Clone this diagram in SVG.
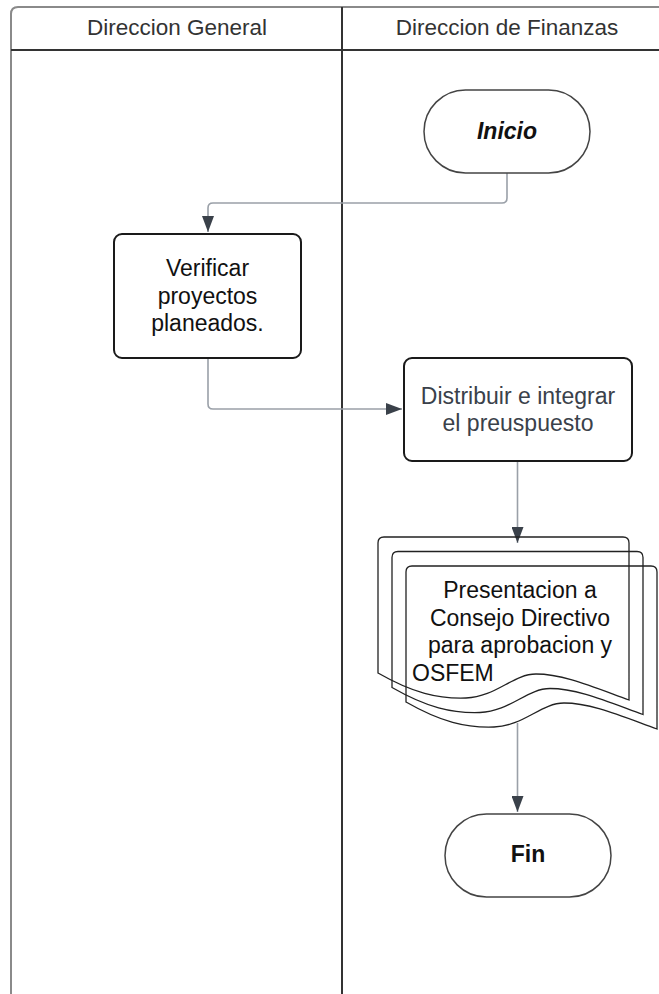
<svg xmlns="http://www.w3.org/2000/svg" width="659" height="994" viewBox="0 0 659 994">
<style>
.t{font-family:"Liberation Sans",Arial,sans-serif;font-size:23px;text-anchor:middle;}
.ts{font-family:"Liberation Sans",Arial,sans-serif;font-size:23px;text-anchor:start;}
.hdr{fill:#333;font-size:22.5px;}
.blk{fill:#111;}
.gry{fill:#3a414a;}
.proc{fill:#fff;stroke:#1a1a1a;stroke-width:2;}
.term{fill:#fff;stroke:#444;stroke-width:1.5;}
.doc{fill:none;stroke:#222;stroke-width:1.3;}
.con{fill:none;stroke:#9aa0a8;stroke-width:1.6;}
</style>
<defs>
<marker id="arrL" viewBox="0 0 16 12" refX="16" refY="6" markerWidth="16" markerHeight="12" markerUnits="userSpaceOnUse" orient="auto">
<path d="M0,0 L16,6 L0,12 Z" fill="#3a414a"/>
</marker>
</defs>
<rect width="659" height="994" fill="#fff"/>
<g id="pool">
<path d="M11,994 V14 Q11,7 18,7 H659" fill="none" stroke="#8a8a8a" stroke-width="2"/>
<line x1="11" y1="50" x2="659" y2="50" stroke="#333" stroke-width="2"/>
<line x1="342" y1="7" x2="342" y2="994" stroke="#333" stroke-width="2"/>
<text class="t hdr" x="177" y="35">Direccion General</text>
<text class="t hdr" x="507" y="35">Direccion de Finanzas</text>
</g>
<g id="connectors">
<path class="con" d="M507,173 V198 Q507,203 502,203 H213 Q208,203 208,208 V232" marker-end="url(#arrL)"/>
<path class="con" d="M208,358 V404 Q208,409 213,409 H402" marker-end="url(#arrL)"/>
<path class="con" d="M517.5,461 V543" marker-end="url(#arrL)"/>
<path class="con" d="M517.5,723 V812" marker-end="url(#arrL)"/>
</g>
<g id="inicio">
<rect class="term" x="424" y="90" width="166" height="83" rx="41.5"/>
<text class="t blk" x="507" y="139" font-weight="bold" font-style="italic">Inicio</text>
</g>
<g id="verificar">
<rect class="proc" x="114" y="234" width="187" height="124" rx="8"/>
<text class="t blk" x="207.5" y="276">Verificar</text>
<text class="t blk" x="207.5" y="303.5">proyectos</text>
<text class="t blk" x="207.5" y="331">planeados.</text>
</g>
<g id="distribuir">
<rect class="proc" x="404" y="358" width="228" height="103" rx="8"/>
<text class="t gry" x="518" y="403.5">Distribuir e integrar</text>
<text class="t gry" x="518" y="431">el preuspuesto</text>
</g>
<g id="presentacion">
<path class="doc" d="M378,673 V543 Q378,537 384,537 H623 Q629,537 629,543 V700 C593,687 563,674 536,674 C513,674 496,697 466,698 C438,699 413,693 378,673 Z"/>
<path class="doc" d="M392,687.5 V557.5 Q392,551.5 398,551.5 H637 Q643,551.5 643,557.5 V714.5 C607,701.5 577,688.5 550,688.5 C527,688.5 510,711.5 480,712.5 C452,713.5 427,707.5 392,687.5 Z"/>
<path class="doc" d="M406,702 V572 Q406,566 412,566 H651 Q657,566 657,572 V729 C621,716 591,703 564,703 C541,703 524,726 494,727 C466,728 441,722 406,702 Z"/>
<text class="t blk" x="520" y="598">Presentacion a</text>
<text class="t blk" x="520" y="625.5">Consejo Directivo</text>
<text class="t blk" x="520" y="653">para aprobacion y</text>
<text class="ts blk" x="412" y="680.5">OSFEM</text>
</g>
<g id="fin">
<rect class="term" x="445" y="814" width="166" height="83" rx="41.5"/>
<text class="t blk" x="528" y="862" font-weight="bold">Fin</text>
</g>
</svg>
